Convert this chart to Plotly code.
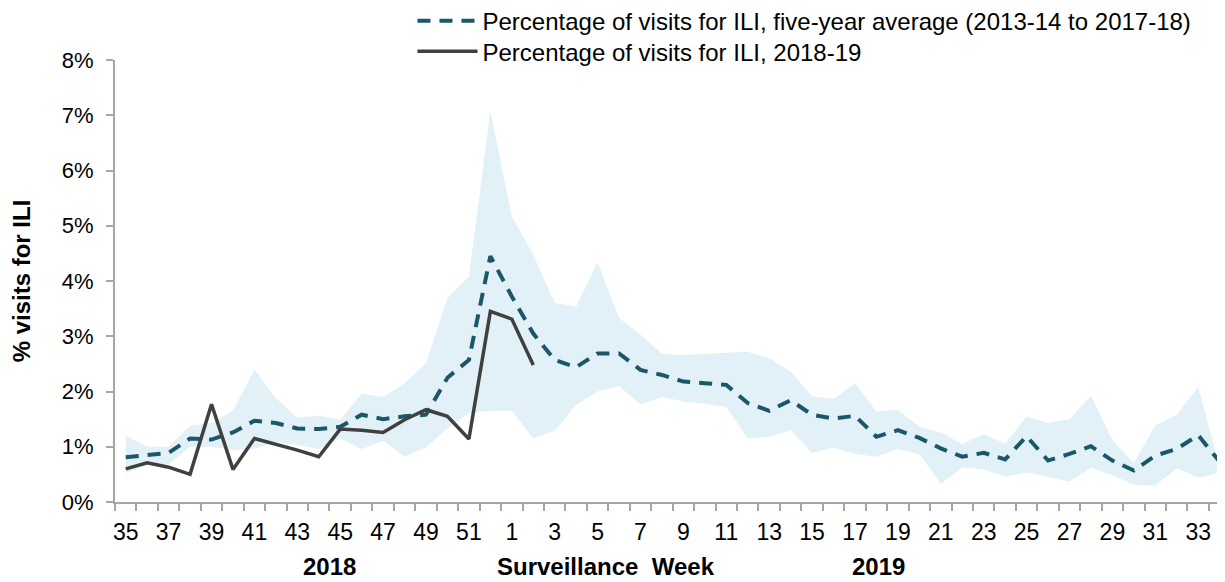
import plotly.graph_objects as go

# Surveillance weeks (2018 weeks 35-52, then 2019 weeks 1-34)
weeks = list(range(35, 53)) + list(range(1, 35))

# Five-year average % visits for ILI (2013-14 to 2017-18)
avg_5yr = [0.81, 0.85, 0.89, 1.15, 1.13, 1.26, 1.47, 1.43, 1.33, 1.32,
           1.36, 1.58, 1.50, 1.55, 1.58, 2.25, 2.57, 4.45, 3.72, 3.05,
           2.57, 2.44, 2.69, 2.69, 2.39, 2.30, 2.18, 2.15, 2.12, 1.79,
           1.65, 1.84, 1.58, 1.51, 1.56, 1.18, 1.30, 1.16, 0.97, 0.82,
           0.89, 0.77, 1.19, 0.75, 0.87, 1.01, 0.75, 0.57, 0.84, 0.96,
           1.21, 0.73]

# 2018-19 season % visits for ILI
season_2018_19 = [0.60, 0.71, 0.63, 0.50, 1.77, 0.59, 1.15, 1.05, 0.94, 0.82,
                  1.32, 1.30, 1.26, 1.49, 1.67, 1.55, 1.14, 3.45, 3.31, 2.48]

# Range of the five previous seasons (max / min)
range_high = [1.20, 1.00, 1.00, 1.38, 1.43, 1.65, 2.40, 1.88, 1.53, 1.56,
              1.49, 1.96, 1.90, 2.15, 2.51, 3.69, 4.08, 7.07, 5.17, 4.47,
              3.60, 3.54, 4.34, 3.33, 3.03, 2.68, 2.66, 2.68, 2.69, 2.72,
              2.60, 2.36, 1.91, 1.87, 2.15, 1.64, 1.67, 1.36, 1.26, 1.05,
              1.23, 1.05, 1.55, 1.43, 1.50, 1.92, 1.12, 0.70, 1.38, 1.58,
              2.08, 0.62]
range_low = [0.52, 0.68, 0.68, 1.00, 1.00, 0.94, 0.96, 1.09, 1.03, 0.96,
             1.15, 0.96, 1.11, 0.82, 0.99, 1.33, 1.61, 1.65, 1.65, 1.15,
             1.29, 1.76, 2.00, 2.10, 1.76, 1.90, 1.82, 1.78, 1.72, 1.15,
             1.18, 1.30, 0.89, 0.98, 0.87, 0.82, 0.96, 0.87, 0.33, 0.63,
             0.59, 0.46, 0.54, 0.45, 0.37, 0.62, 0.49, 0.31, 0.30, 0.61,
             0.44, 0.53]

y_ticks = list(range(0, 9))

xi = list(range(len(weeks)))
FONT = "Liberation Sans, Arial, sans-serif"
AXIS_COLOR = "#a6a6a6"

fig = go.Figure()
fig.add_trace(go.Scatter(x=xi, y=range_low, mode="lines", line=dict(width=0),
                         showlegend=False, hoverinfo="skip"))
fig.add_trace(go.Scatter(x=xi, y=range_high, mode="lines", line=dict(width=0),
                         fill="tonexty", fillcolor="#e1f1f7",
                         showlegend=False, hoverinfo="skip"))
fig.add_trace(go.Scatter(x=xi, y=avg_5yr, mode="lines",
                         name="Percentage of visits for ILI, five-year average (2013-14 to 2017-18)",
                         legend="legend",
                         line=dict(color="#1b5769", width=4, dash="13px,9px")))
fig.add_trace(go.Scatter(x=xi[:len(season_2018_19)], y=season_2018_19, mode="lines",
                         name="Percentage of visits for ILI, 2018-19",
                         legend="legend2",
                         line=dict(color="#404040", width=3.5)))

label_idx = xi[::2]
fig.update_xaxes(
    range=[-0.5, 51.25],
    tickmode="array", tickvals=label_idx, ticktext=[str(weeks[i]) for i in label_idx],
    ticks="", showline=True, linecolor=AXIS_COLOR, linewidth=2,
    showgrid=False, zeroline=False, automargin=False,
    tickfont=dict(family=FONT, size=23, color="#000000"),
    ticklabelstandoff=8,
    minor=dict(tickmode="array", tickvals=[i - 0.5 for i in xi] + [xi[-1] + 0.5],
               ticks="outside", ticklen=7, tickcolor=AXIS_COLOR, tickwidth=1.5,
               showgrid=False),
)
fig.update_yaxes(
    range=[0, 8], tickmode="array", tickvals=y_ticks,
    ticktext=[f"{v}%" for v in y_ticks],
    ticks="outside", ticklen=7, tickcolor=AXIS_COLOR, tickwidth=1.5,
    showline=True, linecolor=AXIS_COLOR, linewidth=2,
    showgrid=False, zeroline=False, automargin=False,
    tickfont=dict(family=FONT, size=22, color="#000000"),
    ticklabelstandoff=8,
    title=dict(text="<b>% visits for ILI</b>", font=dict(family=FONT, size=24, color="#000000"),
               standoff=24),
)

for txt, xpos in [("2018", 9.5), ("Surveillance  Week", 22.4), ("2019", 35.1)]:
    fig.add_annotation(text=f"<b>{txt}</b>", x=xpos, xref="x", y=0, yref="paper",
                       yshift=-64, showarrow=False, yanchor="middle",
                       font=dict(family=FONT, size=24, color="#000000"))

legend_common = dict(xanchor="left", yanchor="top",
                     font=dict(family=FONT, size=24, color="#000000"),
                     itemwidth=60, bgcolor="rgba(0,0,0,0)")
fig.update_layout(
    width=1217, height=574,
    margin=dict(l=107, r=0, t=52, b=80, autoexpand=False),
    plot_bgcolor="white", paper_bgcolor="white",
    legend=dict(x=0.268, y=1.139, **legend_common),
    legend2=dict(x=0.268, y=1.070, **legend_common),
    font=dict(family=FONT),
)

fig.write_html("out.html")
